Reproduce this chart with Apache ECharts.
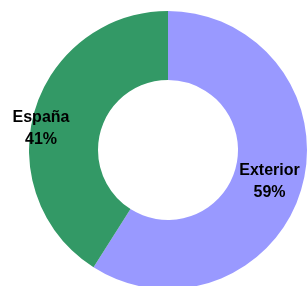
<!DOCTYPE html>
<html>
<head>
<meta charset="utf-8">
<script src="https://cdn.jsdelivr.net/npm/echarts@6/dist/echarts.min.js"></script>
<style>
html,body{margin:0;padding:0;background:#fff;}
#c{width:307px;height:286px;}
</style>
</head>
<body>
<div id="c"></div>
<script>
var categories = ["Exterior", "España"];
var values = [59, 41];
var colors = ["#9999FF", "#339966"];

var labelPos = [[269.5, 182], [41, 129]];

var chart = echarts.init(document.getElementById('c'), null, {renderer: 'canvas'});
chart.setOption({
  animation: false,
  backgroundColor: '#ffffff',
  series: [{
    type: 'pie',
    center: [168, 150],
    radius: [70, 139],
    startAngle: 90,
    clockwise: true,
    avoidLabelOverlap: false,
    silent: true,
    data: categories.map(function (c, i) {
      return {name: c, value: values[i], itemStyle: {color: colors[i]}};
    }),
    label: {
      show: true,
      position: 'inside',
      formatter: function (p) { return p.name + '\n' + p.value + '%'; },
      fontFamily: 'Liberation Sans, Arial, sans-serif',
      fontWeight: 'bold',
      fontSize: 16,
      lineHeight: 22,
      color: '#000',
      align: 'center'
    },
    labelLine: {show: false},
    labelLayout: function (p) {
      var pos = labelPos[p.dataIndex];
      return {x: pos[0], y: pos[1], align: 'center', verticalAlign: 'middle'};
    }
  }]
});
</script>
</body>
</html>
